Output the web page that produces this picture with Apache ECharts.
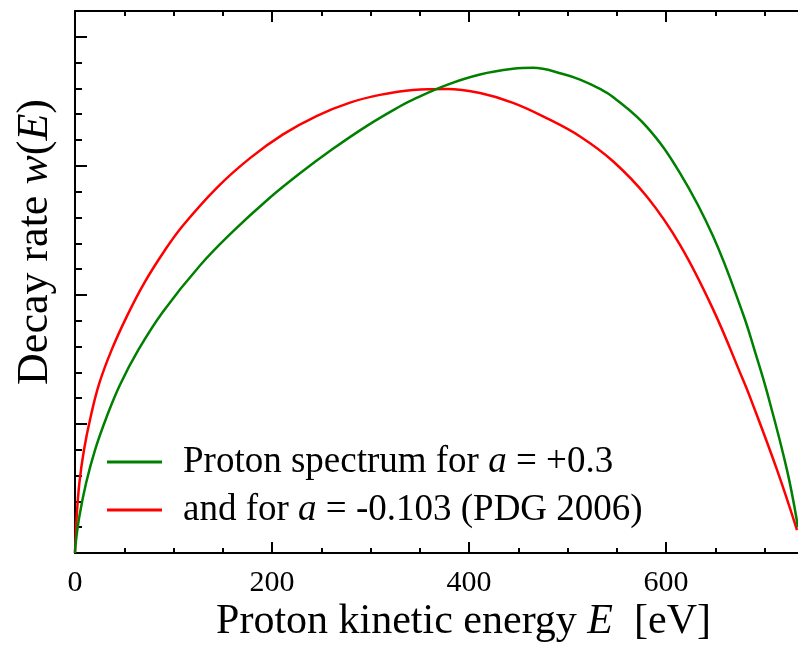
<!DOCTYPE html>
<html><head><meta charset="utf-8">
<script src="https://cdn.jsdelivr.net/npm/echarts@6/dist/echarts.min.js"></script>
<style>html,body{margin:0;padding:0;background:#fff}#c{width:798px;height:654px}</style>
</head><body><div id="c"></div>
<script>
// ---- data ----
const xMajorTicks = [0, 200, 400, 600];
const xMinorTicks = [50, 100, 150, 250, 300, 350, 450, 500, 550, 650, 700];
const yMajorTicks = [0, 5, 10, 15, 20];
const yMinorTicks = [1, 2, 3, 4, 6, 7, 8, 9, 11, 12, 13, 14, 16, 17, 18, 19];

const greenName = 'Proton spectrum for a = +0.3';
const redName = 'and for a = -0.103 (PDG 2006)';

const greenE = [0, 0.7, 4.4, 11.2, 20.3, 32.2, 45.7, 64.3, 89.3, 126.9, 160.4, 194.9, 228.4, 261.9, 296.4, 330, 343.1, 377.7, 411.2, 444.7, 465, 495.4, 512.7, 533, 546.2, 580.7, 614.2, 647.7, 678.2, 690.4, 702.5, 722.8, 734];
const greenW = [0, 0.38, 1.41, 2.70, 3.99, 5.28, 6.52, 7.87, 9.35, 11.14, 12.46, 13.67, 14.71, 15.66, 16.55, 17.31, 17.57, 18.14, 18.54, 18.76, 18.80, 18.56, 18.34, 17.98, 17.67, 16.50, 14.72, 12.28, 9.26, 7.79, 6.24, 3.22, 1.0];

const redE = [0, 1.7, 4.4, 9.1, 15.9, 24.7, 37.2, 52.5, 70.1, 91.4, 109.6, 144.2, 177.7, 211.2, 245.7, 279.2, 309.6, 343.1, 377.7, 411.2, 444.7, 479.2, 512.7, 546.2, 580.7, 614.2, 647.7, 678.2, 685.3, 712.7, 733];
const redW = [0, 1.41, 2.70, 3.99, 5.28, 6.58, 7.87, 9.16, 10.45, 11.74, 12.69, 14.16, 15.30, 16.22, 16.94, 17.45, 17.75, 17.94, 17.98, 17.82, 17.44, 16.84, 16.14, 15.18, 13.80, 11.94, 9.45, 6.71, 6.04, 3.22, 0.89];

// ---- chart ----
const FONT = "'Liberation Serif','Times New Roman',serif";
const X_MIN = 0, X_MAX = 734, Y_MIN = 0, Y_MAX = 21;
const zip = (a, b) => a.map((v, i) => [v, b[i]]);

function xAxisDef(pos, ticks, len, showLine, labels) {
  return {
    type: 'value', position: pos, min: X_MIN, max: X_MAX,
    axisLine: { show: showLine, onZero: false, lineStyle: { color: '#000', width: 2 } },
    axisTick: { show: true, inside: true, length: len, customValues: ticks, lineStyle: { color: '#000', width: 2 } },
    axisLabel: labels ? { show: true, customValues: xMajorTicks, margin: 15, fontFamily: FONT, fontSize: 30, color: '#000' } : { show: false },
    splitLine: { show: false }
  };
}
function yAxisDef(ticks, len, showLine) {
  return {
    type: 'value', position: 'left', min: Y_MIN, max: Y_MAX,
    axisLine: { show: showLine, onZero: false, lineStyle: { color: '#000', width: 2 } },
    axisTick: { show: true, inside: true, length: len, customValues: ticks, lineStyle: { color: '#000', width: 2 } },
    axisLabel: { show: false },
    splitLine: { show: false }
  };
}

const xMain = xAxisDef('bottom', xMajorTicks, 11, true, true);
xMain.name = '{n|Proton kinetic energy }{i|E}{n|  [eV]}';
xMain.nameLocation = 'middle';
xMain.nameGap = 47;
xMain.nameMoveOverlap = false;
xMain.nameTextStyle = {
  padding: [0, 0, 0, 54],
  rich: {
    n: { fontFamily: FONT, fontSize: 42, color: '#000', lineHeight: 44 },
    i: { fontFamily: FONT, fontSize: 42, fontStyle: 'italic', color: '#000', lineHeight: 44 }
  }
};

const yMain = yAxisDef(yMajorTicks, 12, true);
yMain.name = '{n|Decay rate }{i|w}{n|(}{i|E}{n|)}';
yMain.nameLocation = 'middle';
yMain.nameGap = 18;
yMain.nameMoveOverlap = false;
yMain.nameTextStyle = {
  padding: [0, 0, 0, 80],
  rich: {
    n: { fontFamily: FONT, fontSize: 44, color: '#000', lineHeight: 44 },
    i: { fontFamily: FONT, fontSize: 44, fontStyle: 'italic', color: '#000', lineHeight: 44 }
  }
};

const chart = echarts.init(document.getElementById('c'), null, { renderer: 'canvas' });
chart.setOption({
  backgroundColor: '#fff',
  animation: false,
  grid: { left: 75, top: 11, width: 723, height: 542, containLabel: false, outerBoundsMode: 'none', show: false },
  legend: {
    data: [greenName, redName],
    orient: 'vertical', left: 107, top: 442, padding: 0, itemGap: 8,
    itemWidth: 55, itemHeight: 3, icon: 'rect', selectedMode: false,
    textStyle: { fontFamily: FONT, fontSize: 37, color: '#000', padding: [0, 0, 0, 16], lineHeight: 40,
      rich: { i: { fontFamily: FONT, fontSize: 37, fontStyle: 'italic', color: '#000', lineHeight: 40 } } },
    formatter: name => name.replace(' a ', ' {i|a} ')
  },
  xAxis: [
    xMain,
    xAxisDef('bottom', xMinorTicks, 5, false, false),
    xAxisDef('top', xMajorTicks, 11, true, false),
    xAxisDef('top', xMinorTicks, 5, false, false)
  ],
  yAxis: [
    yMain,
    yAxisDef(yMinorTicks, 7, false)
  ],
  series: [
    { name: redName, type: 'line', xAxisIndex: 0, yAxisIndex: 0, data: zip(redE, redW),
      showSymbol: false, symbol: 'none', smooth: 0.4,
      color: '#ff0000', lineStyle: { color: '#ff0000', width: 2.5 } },
    { name: greenName, type: 'line', xAxisIndex: 0, yAxisIndex: 0, data: zip(greenE, greenW),
      showSymbol: false, symbol: 'none', smooth: 0.4,
      color: '#008000', lineStyle: { color: '#008000', width: 2.5 } }
  ]
});
</script></body></html>
